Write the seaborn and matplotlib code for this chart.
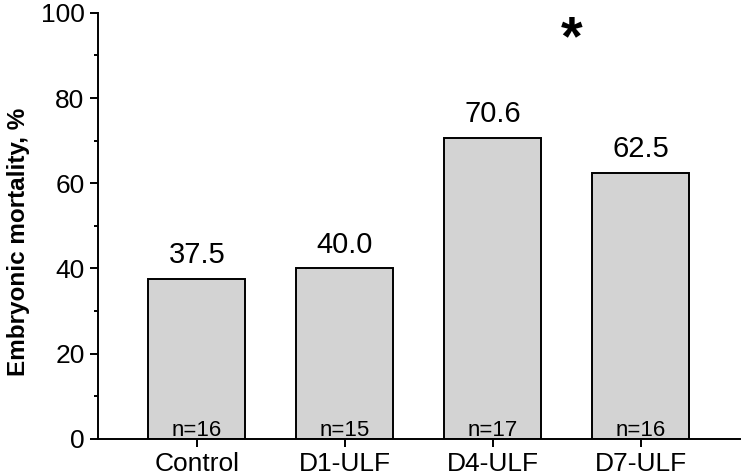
import matplotlib
matplotlib.use('Agg')
import matplotlib.pyplot as plt
import seaborn as sns
import pandas as pd
from matplotlib.ticker import MultipleLocator

groups = ['Control', 'D1-ULF', 'D4-ULF', 'D7-ULF']
mortality = [37.5, 40.0, 70.6, 62.5]
n_labels = ['n=16', 'n=15', 'n=17', 'n=16']

df = pd.DataFrame({'group': groups, 'mortality': mortality})

sns.set_style('ticks')
plt.rcParams['font.family'] = ['Liberation Sans', 'DejaVu Sans']
plt.rcParams['text.color'] = 'black'
plt.rcParams['axes.labelcolor'] = 'black'
plt.rcParams['xtick.labelcolor'] = 'black'
plt.rcParams['ytick.labelcolor'] = 'black'

fig = plt.figure(figsize=(7.46, 4.74), dpi=100)
ax = fig.add_axes([0.131, 0.074, 0.861, 0.899])

sns.barplot(data=df, x='group', y='mortality', color='#d3d3d3', saturation=1,
            edgecolor='black', linewidth=1.4, width=0.655, ax=ax)

for i, (v, n) in enumerate(zip(mortality, n_labels)):
    ax.text(i, v + 2.3, f'{v:.1f}', ha='center', va='bottom', fontsize=21)
    ax.text(i, 0.7, n, ha='center', va='baseline', fontsize=16)

# significance mark
ax.text(2.53, 93.5, '*', ha='center', va='center', fontsize=40, fontweight='bold')

ax.set_ylim(0, 100)
ax.set_xlim(-0.67, 3.67)
ax.yaxis.set_major_locator(MultipleLocator(20))
ax.yaxis.set_minor_locator(MultipleLocator(10))
ax.tick_params(axis='both', which='major', labelsize=19, length=6, width=1.4, color='black')
ax.tick_params(axis='y', which='minor', length=3, width=1.4, color='black')
ax.set_xlabel('')
ax.set_ylabel('Embryonic mortality, %', fontsize=17.5, fontweight='bold')
ax.yaxis.set_label_coords(-0.105, 0.462)
sns.despine(ax=ax)
for s in ['left', 'bottom']:
    ax.spines[s].set_linewidth(1.4)
    ax.spines[s].set_color('black')

fig.savefig('out.png', dpi=100)
